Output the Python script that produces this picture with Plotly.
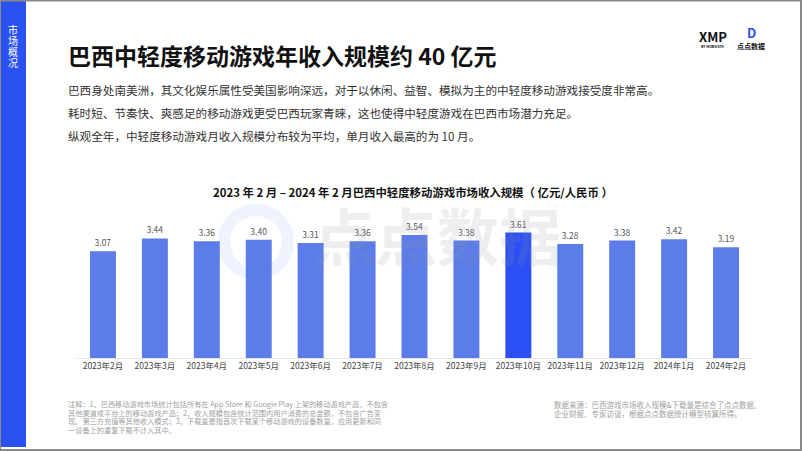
import plotly.graph_objects as go

months = ["2023年2月", "2023年3月", "2023年4月", "2023年5月", "2023年6月", "2023年7月",
          "2023年8月", "2023年9月", "2023年10月", "2023年11月", "2023年12月",
          "2024年1月", "2024年2月"]
revenue = [3.07, 3.44, 3.36, 3.40, 3.31, 3.36, 3.54, 3.38, 3.61, 3.28, 3.38, 3.42, 3.19]
peak_month = "2023年10月"

headline = "巴西中轻度移动游戏年收入规模约 40 亿元"
body_lines = [
    "巴西身处南美洲，其文化娱乐属性受美国影响深远，对于以休闲、益智、模拟为主的中轻度移动游戏接受度非常高。",
    "耗时短、节奏快、爽感足的移动游戏更受巴西玩家青睐，这也使得中轻度游戏在巴西市场潜力充足。",
    "纵观全年，中轻度移动游戏月收入规模分布较为平均，单月收入最高的为 10 月。",
]
chart_title = "2023 年 2 月 – 2024 年 2 月巴西中轻度移动游戏市场收入规模（ 亿元/人民币 ）"
note_lines = [
    "注释：1、巴西移动游戏市场统计包括所有在 App Store 和 Google Play 上架的移动游戏产品，不包含",
    "其他渠道或平台上的移动游戏产品；2、收入规模包含统计范围内用户消费的总金额，不包含广告变",
    "现、第三方充值等其他收入模式；3、下载量是指首次下载某个移动游戏的设备数量，应用更新和同",
    "一设备上的重复下载不计入其中。",
]
source_lines = [
    "数据来源：巴西游戏市场收入规模&下载量是综合了点点数据、",
    "企业财报、专家访谈，根据点点数据统计模型核算所得。",
]

W, H = 802, 451
L, R, T, B = 77, 752, 219, 358
FONT = "Noto Sans CJK SC"


def px(x):
    return (x - L) / (R - L)


def py(y):
    return (B - y) / (B - T)


colors = ["#2a50f5" if m == peak_month else "#5b7ce9" for m in months]

fig = go.Figure(go.Bar(
    x=months, y=revenue, marker=dict(color=colors, line=dict(width=0)),
    text=[f"{v:.2f}" for v in revenue], textposition="outside",
    textfont=dict(size=8.5, color="#555555", family=FONT), cliponaxis=False,
))

ann = []
def txt(x, y, s, size, color="#333333", anchor="left", **kw):
    ann.append(dict(x=px(x), y=py(y), xref="paper", yref="paper", text=s,
                    showarrow=False, xanchor=anchor, yanchor="middle",
                    font=dict(size=size, color=color, family=FONT), **kw))

# watermark
txt(437, 234, "<b>点点数据</b>", 62, "rgba(150,150,160,0.16)", "center")

txt(66, 55, f"<b>{headline}</b>", 23, "#111111")
for i, s in enumerate(body_lines):
    txt(66, 90 + 23 * i, s, 11.6, "#333333")
txt(413, 192, f"<b>{chart_title}</b>", 11.4, "#111111", "center")
for i, s in enumerate(note_lines):
    txt(66, 404 + 8.7 * i, s, 7.2, "#a0a0a0")
for i, s in enumerate(source_lines):
    txt(552, 404 + 9 * i, s, 7.5, "#a0a0a0")

# sidebar label
for i, ch in enumerate("市场概况"):
    txt(13, 29 + 11 * i, ch, 10, "white", "center")

# logos
txt(713, 36, "<b>XMP</b>", 13, "#111111", "center")
txt(713, 46, "<b>BY MOBVISTA</b>", 3.5, "#111111", "center")
txt(751, 33, "<b>D</b>", 13, "#2a50f5", "center")
txt(751, 46, "<b>点点数据</b>", 7, "#111111", "center")

shapes = [
    dict(type="rect", xref="paper", yref="paper", x0=px(0), x1=px(26), y0=py(0), y1=py(447),
         fillcolor="#2952f0", line=dict(width=0), layer="below"),
    dict(type="circle", xref="paper", yref="paper", x0=px(224), x1=px(288), y0=py(210), y1=py(274),
         line=dict(color="rgba(80,120,240,0.09)", width=12), layer="below"),
    dict(type="rect", xref="paper", yref="paper", x0=px(0), x1=px(801), y0=py(0.5), y1=py(450),
         line=dict(color="#8a8a8a", width=2), layer="above"),
]

fig.update_layout(
    width=W, height=H,
    margin=dict(l=L, r=W - R, t=T, b=H - B),
    paper_bgcolor="white", plot_bgcolor="white",
    bargap=0.5, showlegend=False,
    font=dict(family=FONT),
    xaxis=dict(showline=True, linecolor="#e3e3e3", linewidth=1, ticks="", tickangle=0,
               tickfont=dict(size=8.5, color="#444444", family=FONT), showgrid=False),
    yaxis=dict(range=[0, 4.0], visible=False),
    annotations=ann, shapes=shapes,
)
fig.write_html("out.html", config=dict(displayModeBar=False),
               post_script="document.body.style.margin='0';document.body.style.overflow='hidden';")
